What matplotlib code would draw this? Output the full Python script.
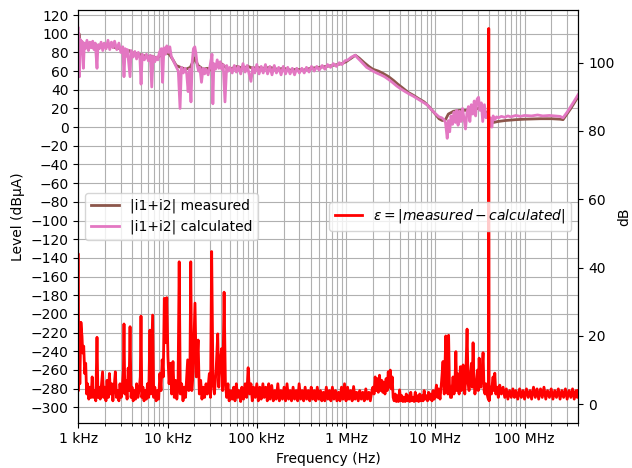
import numpy as np
import matplotlib
matplotlib.use("Agg")
import matplotlib.pyplot as plt
from matplotlib.ticker import (MultipleLocator, FixedLocator, FixedFormatter,
                               LogLocator, NullFormatter)

# Decade tick positions (Hz) and their labels
decade_ticks_hz = [1e3, 1e4, 1e5, 1e6, 1e7, 1e8]
decade_labels = ["1 kHz", "10 kHz", "100 kHz", "1 MHz", "10 MHz", "100 MHz"]

# |i1+i2| measured: (frequency in kHz, level in dBuA)
measured = [
    (1.0, 92), (1.02, 100), (1.05, 88), (1.1, 91), (1.2, 87), (1.3, 90), (1.5, 86),
    (1.7, 88), (2.0, 86), (2.3, 88), (2.6, 85), (3.0, 84), (3.3, 81), (3.7, 82),
    (4.2, 79), (4.7, 78), (5.3, 77), (6.0, 75), (6.7, 76), (7.5, 74), (8.5, 77),
    (9.5, 80), (10.5, 78), (11.5, 72), (12.5, 66), (14, 64), (16, 62), (18, 64),
    (20, 74), (22, 66), (25, 62), (28, 63), (31, 61), (35, 66), (40, 68), (45, 64),
    (50, 62), (60, 65), (70, 63), (80, 65), (90, 63), (100, 64), (120, 63),
    (140, 64), (170, 62), (200, 63), (240, 61), (280, 62), (330, 61), (400, 63),
    (500, 64), (600, 65), (700, 66), (800, 67), (900, 68), (1000, 70), (1150, 74),
    (1270, 77), (1400, 74), (1600, 69), (1800, 65), (2000, 62), (2300, 60),
    (2600, 57.5), (3000, 54), (3400, 50), (3800, 46), (4300, 42), (5000, 37),
    (5700, 34), (6500, 30.5), (7500, 27), (8500, 22), (10000, 14), (11000, 9),
    (12000, 7), (13000, 8), (14000, 14), (16000, 17), (19000, 18), (22000, 18),
    (26000, 19), (30000, 20), (34000, 19), (37000, 16), (40000, 8), (45000, 5),
    (50000, 6), (60000, 7), (80000, 8), (100000, 8.5), (150000, 9), (200000, 9),
    (250000, 8.5), (270000, 8), (330000, 20), (400000, 33),
]

# |i1+i2| calculated: (frequency in kHz, level in dBuA)
calculated = [
    (1.0, 106), (1.005, 60), (1.012, 100), (1.02, 70), (1.03, 54), (1.05, 94),
    (1.08, 82), (1.1, 92), (1.14, 63), (1.17, 90), (1.2, 84), (1.25, 93),
    (1.3, 82), (1.35, 91), (1.4, 85), (1.45, 92), (1.5, 83), (1.55, 90),
    (1.62, 63), (1.66, 88), (1.72, 84), (1.8, 91), (1.88, 82), (1.95, 90),
    (2.05, 84), (2.15, 93), (2.25, 83), (2.35, 91), (2.45, 85), (2.55, 92),
    (2.7, 83), (2.85, 90), (3.0, 80), (3.15, 86), (3.25, 54), (3.35, 84),
    (3.45, 76), (3.55, 83), (3.8, 54), (3.9, 82), (4.1, 75), (4.3, 81), (4.5, 73),
    (4.7, 80), (4.9, 74), (5.05, 46), (5.2, 78), (5.5, 72), (5.8, 78), (6.1, 71),
    (6.4, 77), (6.65, 43), (6.9, 76), (7.2, 70), (7.5, 75), (7.8, 72), (8.1, 80),
    (8.5, 84), (8.8, 48), (9.1, 85), (9.5, 78), (9.8, 87), (10.2, 80), (10.6, 86),
    (11.0, 76), (11.5, 72), (12.0, 68), (12.6, 64), (13.2, 60), (13.8, 20),
    (14.3, 64), (15, 58), (15.7, 63), (16.4, 57), (17.0, 38), (17.6, 62),
    (18.3, 27), (18.9, 70), (19.5, 84), (20.2, 86), (20.8, 79), (21.5, 66),
    (22.3, 60), (23, 64), (24, 48), (25, 63), (26, 57), (27, 62), (28.5, 56),
    (30, 66), (31.5, 78), (32.2, 25), (33, 68), (34.5, 62), (36, 72), (37.5, 63),
    (39, 70), (40.5, 62), (42, 67), (44, 27), (46, 66), (48, 60), (50, 64),
    (53, 58), (56, 66), (59, 59), (62, 65), (66, 57), (70, 68), (74, 59), (78, 66),
    (82, 57), (86, 49), (90, 64), (95, 58), (100, 67), (106, 57), (112, 65),
    (118, 58), (125, 67), (132, 57), (140, 65), (148, 56), (157, 66), (166, 58),
    (176, 64), (187, 56), (198, 65), (210, 57), (222, 64), (236, 57), (250, 63),
    (265, 56), (280, 63), (300, 58), (320, 63), (340, 58), (360, 64), (385, 59),
    (410, 65), (440, 60), (470, 65), (500, 61), (540, 66), (580, 62), (620, 67),
    (670, 64), (720, 68), (780, 65), (840, 69), (900, 67), (970, 71), (1050, 72),
    (1150, 75), (1270, 77), (1350, 74), (1450, 71), (1550, 68), (1700, 64),
    (1850, 62), (2000, 60), (2200, 58), (2450, 56), (2700, 54), (3000, 51),
    (3300, 48), (3700, 44), (4100, 41), (4600, 38), (5100, 35.5), (5700, 33),
    (6400, 30), (7200, 27), (8100, 24), (9000, 19), (10000, 14.5), (11000, 11),
    (11800, 10), (12500, 8), (13000, 5), (13600, -12), (14000, 7), (14500, -5),
    (15000, 12), (15600, 3), (16200, 16), (16800, 5), (17400, 18), (18000, 2),
    (18700, 17), (19400, 6), (20200, 20), (21000, 9), (21800, -2), (22600, 15),
    (23500, 22), (24400, 6), (25300, 24), (26300, 14), (27300, 28), (28300, 12),
    (29400, 30), (30500, 32), (31600, 18), (32800, 26), (34000, 6), (35500, 24),
    (37000, 10), (38500, 14), (40000, 6), (41500, 10), (43000, 0), (44500, 12),
    (46500, 8), (48500, 11), (51000, 10), (55000, 11.5), (60000, 10.5),
    (65000, 12), (70000, 11), (80000, 12.5), (90000, 11.5), (100000, 12.5),
    (120000, 12), (140000, 13), (160000, 12), (190000, 12.5), (220000, 12),
    (250000, 11.5), (270000, 10), (300000, 16), (350000, 26), (400000, 35),
]

# Error between measurement and calculation: (frequency in kHz, dB)
error = [
    (1.0, 44), (1.003, 44), (1.008, 4), (1.02, 24), (1.04, 6), (1.07, 24),
    (1.09, 21), (1.1, 20), (1.12, 15), (1.15, 17), (1.18, 9), (1.21, 12),
    (1.24, 3), (1.27, 6), (1.31, 1.5), (1.35, 5), (1.39, 2), (1.43, 8),
    (1.47, 2), (1.52, 4), (1.57, 1), (1.62, 19.6), (1.66, 2), (1.71, 5),
    (1.76, 1.5), (1.82, 6), (1.87, 9.5), (1.92, 2), (1.98, 5), (2.04, 1),
    (2.1, 7), (2.17, 2), (2.23, 9), (2.3, 3), (2.37, 6), (2.44, 1), (2.52, 5),
    (2.6, 9.5), (2.68, 2), (2.76, 4), (2.85, 1), (2.93, 6), (3.02, 2), (3.11, 5),
    (3.2, 10), (3.25, 23.5), (3.32, 3), (3.42, 7), (3.52, 1.5), (3.62, 10.6),
    (3.7, 4), (3.8, 22.7), (3.9, 2), (4.0, 5), (4.12, 1), (4.25, 4), (4.38, 1.5),
    (4.5, 6), (4.65, 2), (4.8, 4), (4.95, 8), (5.04, 25.8), (5.15, 2),
    (5.3, 5), (5.45, 1), (5.6, 4), (5.8, 1.5), (5.95, 6), (6.15, 2),
    (6.35, 21.7), (6.5, 3), (6.8, 26.1), (7.0, 2), (7.2, 5), (7.45, 1),
    (7.7, 4), (7.95, 1.5), (8.2, 9), (8.45, 4), (8.7, 13), (8.95, 8),
    (9.2, 31), (9.5, 18), (9.8, 31.2), (10.1, 14), (10.4, 6), (10.8, 12),
    (11.1, 3), (11.5, 12.5), (11.9, 2), (12.3, 7), (12.7, 1.5), (13.1, 5),
    (13.5, 41.7), (13.9, 3), (14.4, 6), (14.9, 1), (15.4, 5), (15.9, 2),
    (16.4, 8), (16.8, 13), (17.3, 4), (17.8, 9), (18.2, 41.7), (18.7, 4),
    (19.3, 9.5), (20.3, 29.6), (21.0, 8), (22.0, 18.8), (22.7, 3), (23.5, 7),
    (24.3, 1.5), (25.1, 5), (26.0, 2), (27.0, 6), (28.0, 3), (29.4, 9),
    (30.3, 2), (31.2, 44.7), (32.3, 6), (33.5, 3), (35.0, 10), (36.5, 20.6),
    (37.5, 5), (38.7, 12), (40.4, 16.3), (41.5, 4), (43.0, 32.8), (44.5, 6),
    (46, 2), (47.5, 6), (49, 1), (51, 4), (53, 1.5), (55, 5), (57, 1), (59, 6),
    (61, 2), (63, 4), (66, 0.8), (68, 5), (71, 1.5), (74, 6), (77, 2),
    (80, 10.7), (83, 3), (86, 6), (89, 1), (92, 5), (96, 2), (100, 6),
    (104, 1), (108, 5), (112, 1.5), (117, 6), (121, 2), (126, 5), (131, 1),
    (136, 6), (141, 1.5), (147, 5.5), (153, 1), (159, 4), (165, 1.5), (172, 6),
    (179, 1), (186, 4), (194, 1.5), (202, 5), (210, 1), (218, 6), (227, 1.5),
    (236, 4), (245, 1), (255, 5), (265, 1.5), (276, 4), (287, 1), (298, 6),
    (310, 1.5), (322, 4), (335, 1), (348, 5), (362, 1.5), (377, 4), (392, 1),
    (407, 5), (423, 1.5), (440, 4), (458, 1), (476, 5), (495, 1.5), (515, 4),
    (535, 1), (556, 3.5), (578, 1), (601, 5), (625, 1.5), (650, 4), (676, 1),
    (703, 5), (731, 1.5), (760, 4), (790, 1), (822, 3.5), (855, 1), (889, 5),
    (924, 1.5), (961, 6), (1000, 1), (1040, 5), (1080, 1.5), (1125, 4),
    (1170, 1), (1215, 5.2), (1265, 1.5), (1315, 3.5), (1370, 1), (1425, 4),
    (1480, 1.5), (1540, 3.5), (1600, 1), (1665, 4.5), (1730, 1.5), (1800, 3.5),
    (1870, 1), (1950, 4), (2000, 5), (2060, 3), (2120, 8), (2180, 4),
    (2240, 7.5), (2300, 3.5), (2370, 8.5), (2440, 4), (2510, 7), (2580, 3.5),
    (2650, 6.5), (2730, 3), (2810, 7.5), (2890, 4), (2970, 9.5), (3050, 5),
    (3130, 10), (3210, 4.5), (3290, 8), (3370, 2), (3460, 1), (3560, 3),
    (3660, 0.8), (3760, 2.5), (3870, 0.8), (3980, 4.2), (4100, 1), (4220, 2.5),
    (4340, 0.8), (4470, 2), (4600, 0.8), (4730, 3), (4870, 1), (5010, 2.5),
    (5160, 0.8), (5310, 3.5), (5460, 1), (5620, 2), (5790, 0.8), (5960, 3.5),
    (6130, 1), (6310, 2.5), (6500, 0.8), (6690, 3), (6880, 1), (7080, 2.5),
    (7290, 1), (7500, 4), (7720, 1.5), (7950, 2.5), (8180, 1), (8420, 3.5),
    (8670, 1.5), (8920, 3), (9180, 1), (9450, 4), (9730, 1.5), (10000, 3),
    (10300, 5.6), (10600, 2), (10900, 4.5), (11300, 1.5), (11700, 6),
    (12200, 12.5), (12600, 3), (13100, 20), (13400, 5), (13600, 9), (13850, 3),
    (14100, 20.2), (14400, 6), (14800, 2), (15200, 2), (15500, 5), (15800, 8),
    (16200, 3), (16600, 6), (17000, 15.4), (17400, 4), (17700, 9), (18000, 5),
    (18500, 3), (19100, 11), (19600, 4), (20000, 8), (20500, 11.5), (21000, 5),
    (21400, 3), (22000, 9), (22700, 22), (23300, 6), (23900, 4), (24600, 8),
    (25400, 12), (25900, 5), (26500, 18), (27100, 7), (27800, 3), (28400, 5),
    (29000, 7), (29700, 10), (30300, 4), (31000, 13.5), (31700, 6), (32400, 5),
    (33300, 9), (34300, 15.1), (35200, 4), (36100, 3), (36800, 6), (37400, 5),
    (38100, 3), (38800, 2), (39300, 1.5), (39700, 110), (40100, 1), (40800, 4),
    (41500, 5), (42600, 3), (43500, 6), (44400, 8), (45400, 4), (46400, 9.1),
    (47700, 3), (49200, 5), (50800, 2), (52700, 5.6), (55000, 3), (57500, 5),
    (60000, 2), (62500, 4.5), (65000, 1.5), (68000, 4), (71000, 2), (74000, 4.5),
    (77000, 2), (80000, 4), (84000, 1.5), (88000, 4.5), (92000, 2), (96000, 4),
    (100000, 1.5), (105000, 4.5), (110000, 2), (115000, 4), (120000, 1.5),
    (126000, 5), (132000, 2), (138000, 4.5), (144000, 1.5), (151000, 4.5),
    (158000, 2), (165000, 5), (173000, 1.5), (181000, 4), (190000, 2),
    (199000, 4.5), (208000, 1.5), (218000, 4), (228000, 2), (239000, 4.5),
    (250000, 1.5), (262000, 4), (274000, 2), (287000, 4.5), (300000, 1.5),
    (315000, 4), (330000, 2), (345000, 4.5), (360000, 1.5), (378000, 4),
    (390000, 2), (400000, 4),
]


def split(points):
    arr = np.array(points, dtype=float)
    return arr[:, 0] * 1e3, arr[:, 1]


f_meas, lvl_meas = split(measured)
f_calc, lvl_calc = split(calculated)
f_err, val_err = split(error)

fig = plt.figure(figsize=(6.32, 4.68), dpi=100)
ax = fig.add_axes([0.1239, 0.0968, 0.7911, 0.8818])

ax.plot(f_meas, lvl_meas, color="tab:brown", lw=2, label="|i1+i2| measured")
ax.plot(f_calc, lvl_calc, color="tab:pink", lw=2, label="|i1+i2| calculated")

ax.set_xscale("log")
ax.set_xlim(1e3, 4e8)
ax.set_ylim(-316.5, 125.4)
ax.yaxis.set_major_locator(MultipleLocator(20))
ax.xaxis.set_major_locator(FixedLocator(decade_ticks_hz))
ax.xaxis.set_major_formatter(FixedFormatter(decade_labels))
ax.xaxis.set_minor_locator(LogLocator(base=10, subs=np.arange(2, 10), numticks=100))
ax.xaxis.set_minor_formatter(NullFormatter())
ax.grid(True, which="both")
ax.set_xlabel("Frequency (Hz)")
ax.set_ylabel("Level (dBµA)")
ax.legend(loc="center left", handlelength=2.0)

ax2 = ax.twinx()
ax2.plot(f_err, val_err, color="red", lw=2,
         label=r"$\varepsilon = |measured - calculated|$")
ax2.set_ylim(-5.4, 115.4)
ax2.set_ylabel("dB", labelpad=2)
ax2.legend(loc="center right")

fig.savefig("out.png", dpi=100)
